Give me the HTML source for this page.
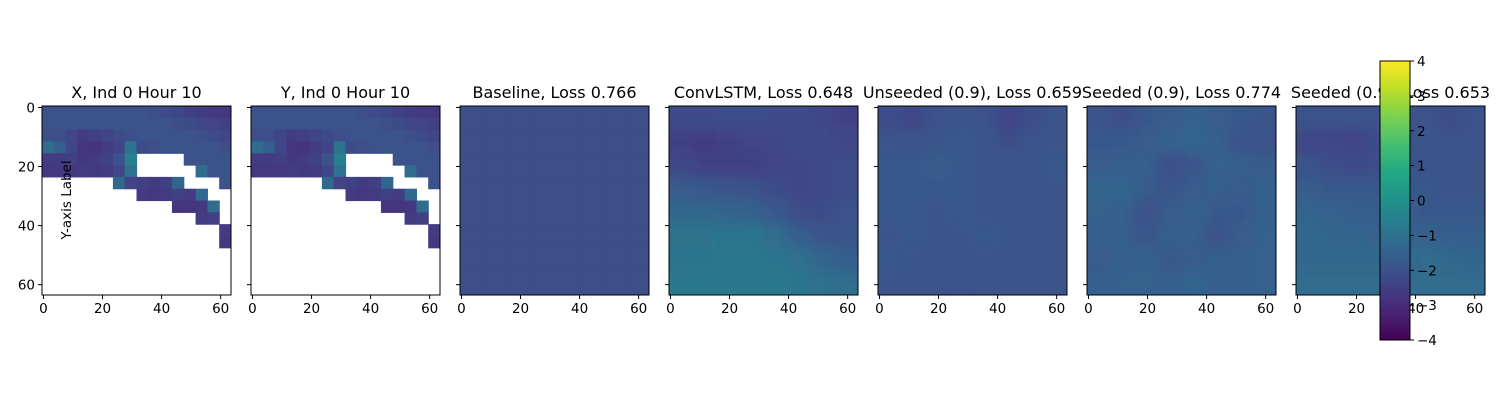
<!DOCTYPE html>
<html><head><meta charset="utf-8"><style>
html,body{margin:0;padding:0;background:#fff;}
svg{display:block;font-family:"DejaVu Sans","Liberation Sans",sans-serif;}
</style></head><body>
<svg id="fig" width="1500" height="400" viewBox="0 0 1500 400">
<defs>
<filter id="smooth" filterUnits="userSpaceOnUse" x="0" y="0" width="1500" height="400"><feGaussianBlur stdDeviation="7"/></filter>
<linearGradient id="vir" x1="0" y1="1" x2="0" y2="0">
<stop offset="0" stop-color="#440154"/><stop offset="0.1" stop-color="#482475"/><stop offset="0.2" stop-color="#414487"/><stop offset="0.3" stop-color="#355f8d"/><stop offset="0.4" stop-color="#2a788e"/><stop offset="0.5" stop-color="#21918c"/><stop offset="0.6" stop-color="#22a884"/><stop offset="0.7" stop-color="#44bf70"/><stop offset="0.8" stop-color="#7ad151"/><stop offset="0.9" stop-color="#bddf26"/><stop offset="1" stop-color="#fde725"/>
</linearGradient>
</defs>
</svg>
<script>
const N = null;
const panelTitles = ["X, Ind 0 Hour 10","Y, Ind 0 Hour 10","Baseline, Loss 0.766","ConvLSTM, Loss 0.648","Unseeded (0.9), Loss 0.659","Seeded (0.9), Loss 0.774","Seeded (0.9), Loss 0.653"];
const axisTicks = [0,20,40,60];
const colorbarTicks = [-4,-3,-2,-1,0,1,2,3,4];
const xValues = [
[-2.0,-2.0,-2.0,-2.0,-2.0,-2.0,-2.0,-2.0,-2.0,-2.1,-2.2,-2.3,-2.5,-2.6,-2.7,-2.7],
[-2.0,-2.0,-2.0,-2.0,-2.0,-2.0,-2.0,-2.0,-2.0,-2.0,-2.0,-2.1,-2.2,-2.3,-2.4,-2.5],
[-2.1,-2.1,-2.3,-2.6,-2.5,-2.4,-2.2,-2.1,-2.0,-2.0,-2.0,-2.0,-2.0,-2.1,-2.2,-2.3],
[-1.2,-1.6,-2.3,-2.8,-2.8,-2.6,-2.4,-1.0,-2.2,-2.1,-2.0,-2.0,-2.0,-2.0,-2.0,-2.1],
[-2.6,-2.6,-2.5,-2.7,-2.6,-2.5,-2.0,-0.6,N,N,N,N,-2.0,-2.0,-2.0,-2.0],
[-2.7,-2.7,-2.7,-2.6,-2.7,-2.6,-2.3,-1.0,N,N,N,N,N,-1.2,-2.0,-2.0],
[N,N,N,N,N,N,-1.3,-2.4,-2.5,-2.6,-2.5,-1.4,N,N,N,-2.0],
[N,N,N,N,N,N,N,N,-2.6,-2.7,-2.6,-2.5,-2.6,-1.3,N,N],
[N,N,N,N,N,N,N,N,N,N,N,-2.8,-2.8,-2.7,-1.2,N],
[N,N,N,N,N,N,N,N,N,N,N,N,N,-2.6,-2.5,N],
[N,N,N,N,N,N,N,N,N,N,N,N,N,N,N,-2.6],
[N,N,N,N,N,N,N,N,N,N,N,N,N,N,N,-2.7],
[N,N,N,N,N,N,N,N,N,N,N,N,N,N,N,N],
[N,N,N,N,N,N,N,N,N,N,N,N,N,N,N,N],
[N,N,N,N,N,N,N,N,N,N,N,N,N,N,N,N],
[N,N,N,N,N,N,N,N,N,N,N,N,N,N,N,N]
];
const yValues = xValues.map(r => r.slice());
const baselineValues = [
[-2.1,-2.1,-2.1,-2.1,-2.1,-2.1,-2.1,-2.1],[-2.1,-2.1,-2.1,-2.1,-2.1,-2.1,-2.1,-2.1],
[-2.1,-2.1,-2.1,-2.1,-2.1,-2.1,-2.1,-2.1],[-2.1,-2.1,-2.1,-2.1,-2.1,-2.1,-2.1,-2.1],
[-2.1,-2.1,-2.1,-2.1,-2.1,-2.1,-2.1,-2.1],[-2.1,-2.1,-2.1,-2.1,-2.1,-2.1,-2.1,-2.1],
[-2.1,-2.1,-2.1,-2.1,-2.1,-2.1,-2.1,-2.1],[-2.1,-2.1,-2.1,-2.1,-2.1,-2.1,-2.1,-2.1]
];
const convlstmValues = [
[-2.2,-2.2,-2.1,-2.1,-2.2,-2.2,-2.3,-2.5],
[-2.5,-2.6,-2.5,-2.4,-2.3,-2.2,-2.2,-2.3],
[-2.3,-2.5,-2.5,-2.5,-2.4,-2.3,-2.2,-2.1],
[-1.7,-1.8,-1.9,-2.0,-2.2,-2.3,-2.2,-2.1],
[-1.3,-1.3,-1.4,-1.5,-1.8,-2.1,-2.2,-2.0],
[-1.0,-1.0,-0.9,-0.9,-1.2,-1.6,-1.9,-1.9],
[-0.9,-0.9,-0.8,-0.8,-0.9,-1.1,-1.4,-1.6],
[-0.8,-0.8,-0.8,-0.8,-0.8,-0.9,-1.1,-1.2]
];
const unseededValues = [
[-2.1,-2.3,-2.0,-1.9,-2.0,-2.4,-2.1,-1.9],
[-1.9,-2.0,-1.9,-1.8,-1.9,-2.1,-2.0,-1.9],
[-1.8,-1.8,-1.7,-1.8,-1.9,-1.9,-1.9,-1.8],
[-1.8,-1.8,-1.8,-1.8,-1.9,-1.9,-1.9,-1.9],
[-1.8,-1.8,-1.9,-1.8,-1.9,-1.9,-1.9,-1.9],
[-1.9,-1.8,-1.9,-1.9,-1.8,-1.9,-1.9,-1.9],
[-1.8,-1.9,-1.9,-1.9,-1.9,-1.9,-1.9,-1.9],
[-1.9,-1.9,-1.9,-2.0,-1.9,-1.9,-1.9,-1.9]
];
const seededAValues = [
[-1.9,-2.1,-1.8,-1.7,-1.5,-1.7,-1.8,-1.9],
[-1.8,-1.8,-1.7,-1.5,-1.4,-1.6,-2.0,-2.0],
[-1.7,-1.6,-1.6,-2.1,-1.9,-1.5,-1.6,-1.7],
[-1.4,-1.4,-1.7,-1.9,-1.7,-1.6,-1.7,-1.6],
[-1.5,-1.6,-2.0,-1.7,-1.5,-1.8,-1.8,-1.6],
[-1.6,-1.6,-1.9,-1.6,-1.6,-2.0,-1.7,-1.5],
[-1.7,-1.6,-1.5,-1.8,-1.7,-1.6,-1.6,-1.5],
[-1.6,-1.5,-1.5,-1.6,-1.4,-1.6,-1.6,-1.5]
];
const seededBValues = [
[-2.0,-2.0,-2.0,-2.0,-1.9,-2.0,-2.1,-2.0],
[-2.3,-2.3,-2.4,-2.2,-2.0,-1.9,-2.0,-2.0],
[-2.0,-2.1,-2.2,-2.1,-2.0,-2.0,-1.9,-1.9],
[-1.7,-1.8,-1.8,-1.8,-1.8,-1.8,-1.9,-1.9],
[-1.4,-1.5,-1.6,-1.6,-1.7,-1.8,-1.8,-1.8],
[-1.3,-1.4,-1.4,-1.5,-1.4,-1.5,-1.6,-1.6],
[-1.3,-1.3,-1.3,-1.3,-1.3,-1.2,-1.3,-1.4],
[-1.2,-1.2,-1.2,-1.2,-1.2,-1.2,-1.2,-1.2]
];
const panelData = [xValues,yValues,baselineValues,convlstmValues,unseededValues,seededAValues,seededBValues];
const panelSmooth = [false,false,false,true,true,true,true];
const panelNames = ["x-panel","y-panel","baseline-panel","convlstm-panel","unseeded-panel","seeded-panel-1","seeded-panel-2"];

const vmin=-4, vmax=4;
const stops=["#440154","#482475","#414487","#355f8d","#2a788e","#21918c","#22a884","#44bf70","#7ad151","#bddf26","#fde725"];
function hex(c){return [1,3,5].map(i=>parseInt(c.substr(i,2),16));}
function viridis(v){
  let t=Math.max(0,Math.min(1,(v-vmin)/(vmax-vmin)))*10;
  let i=Math.min(9,Math.floor(t)), f=t-i;
  const a=hex(stops[i]), b=hex(stops[i+1]);
  return "rgb("+a.map((x,k)=>Math.round(x+(b[k]-x)*f)).join(",")+")";
}
const NS="http://www.w3.org/2000/svg";
const svg=document.getElementById("fig");
function mk(tag,attrs,parent){const e=document.createElementNS(NS,tag);for(const k in attrs)e.setAttribute(k,attrs[k]);(parent||svg).appendChild(e);return e;}

const panelLeft=[42,251,460,669,878,1087,1296];
const panelTop=106, size=189;
const dataMax=64;
function sx(p,d){return panelLeft[p]+(d+0.5)/dataMax*size;}
function sy(d){return panelTop+(d+0.5)/dataMax*size;}

panelData.forEach((grid,p)=>{
  const g=mk("g",{});
  
  
  const clipId="clip"+p;
  const cp=mk("clipPath",{id:clipId},g);
  mk("rect",{x:panelLeft[p],y:panelTop,width:size,height:size},cp);
  const cells=mk("g",{"clip-path":"url(#"+clipId+")"},g);
  const smooth=panelSmooth[p];
  const inner=mk("g",smooth?{filter:"url(#smooth)"}:{},cells);
  const rows=grid.length, cols=grid[0].length;
  const cw=size/cols, ch=size/rows;
  const pad=smooth?20:0;
  grid.forEach((row,r)=>row.forEach((v,c)=>{
    if(v===null) return;
    let x0=panelLeft[p]+c*cw, y0=panelTop+r*ch, w=cw+0.6, h=ch+0.6;
    if(c===0){x0-=pad;w+=pad;}
    if(c===cols-1){w+=pad;}
    if(r===0){y0-=pad;h+=pad;}
    if(r===rows-1){h+=pad;}
    const rc=mk("rect",{x:x0.toFixed(2),y:y0.toFixed(2),width:w.toFixed(2),height:h.toFixed(2),fill:viridis(v)},inner);
    
    
  }));
  const frame=mk("rect",{x:panelLeft[p],y:panelTop,width:size,height:size,fill:"none",stroke:"#000","stroke-width":1},g);
  
  
  axisTicks.forEach(t=>{
    const x=sx(p,t);
    mk("line",{x1:x,y1:panelTop+size,x2:x,y2:panelTop+size+4,stroke:"#000"},g);
    const tl=mk("text",{x:x,y:panelTop+size+18,"font-size":13.5,"text-anchor":"middle",fill:"#000"},g);
    tl.textContent=t;
    
    
    const y=sy(t);
    mk("line",{x1:panelLeft[p],y1:y,x2:panelLeft[p]-4,y2:y,stroke:"#000"},g);
    if(p===0){
      const yl=mk("text",{x:panelLeft[p]-7,y:y+5,"font-size":13.5,"text-anchor":"end",fill:"#000"},g);
      yl.textContent=t;
      
      
    }
  });
  const title=mk("text",{x:panelLeft[p]+size/2,y:98,"font-size":16,"text-anchor":"middle",fill:"#000"},g);
  title.textContent=panelTitles[p];
  
  
});
const ylab=mk("text",{x:0,y:0,"font-size":13.5,"text-anchor":"middle",fill:"#000",transform:"translate(71,200) rotate(-90)"});
ylab.textContent="Y-axis Label";



const cb=mk("g",{});


const cbTop=61, cbBot=340, cbX=1380, cbW=30;
mk("rect",{x:cbX,y:cbTop,width:cbW,height:cbBot-cbTop,fill:"url(#vir)",stroke:"#000","stroke-width":1},cb);
colorbarTicks.forEach(t=>{
  const y=cbBot-(t-vmin)/(vmax-vmin)*(cbBot-cbTop);
  mk("line",{x1:cbX+cbW,y1:y,x2:cbX+cbW+4,y2:y,stroke:"#000"},cb);
  const tl=mk("text",{x:cbX+cbW+7,y:y+5,"font-size":13.5,fill:"#000"},cb);
  tl.textContent=(t<0?"\u2212"+(-t):t);
  
  
});
</script>
</body></html>
